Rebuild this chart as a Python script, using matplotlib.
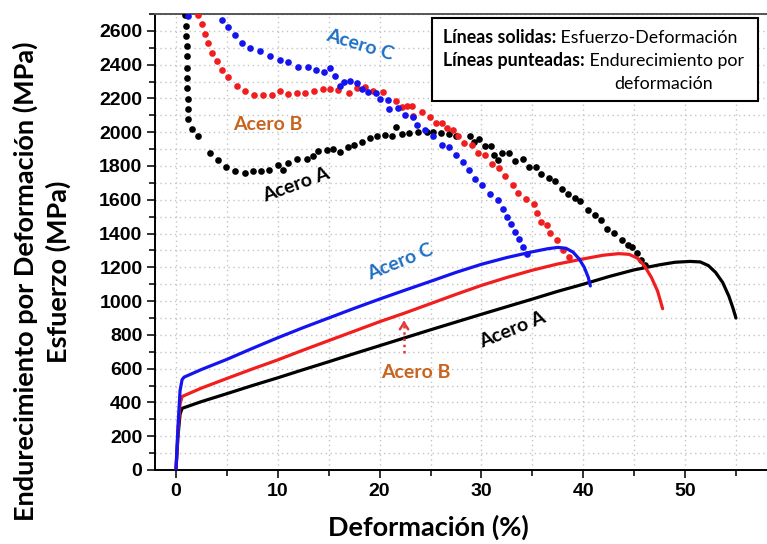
import matplotlib.pyplot as plt
from matplotlib.ticker import MultipleLocator

# Curvas esfuerzo-deformacion (lineas solidas)
strain_a = [0, 0.2, 0.4, 0.6, 2.5, 5, 7.5, 10, 12.5, 15, 17.5, 20, 22.5, 25, 27.5, 30, 32.5, 35,
            37.5, 40, 42.5, 45, 47.5, 49, 50.5, 51.5, 52.3, 53, 53.7, 54.3, 54.7, 55]
stress_a = [0, 200, 330, 365, 405, 452, 500, 546, 594, 641, 689, 736, 783, 830, 876, 922, 967, 1012,
            1058, 1100, 1145, 1185, 1215, 1230, 1235, 1232, 1210, 1170, 1110, 1030, 960, 900]

strain_b = [0, 0.2, 0.4, 0.6, 2.5, 5, 7.5, 10, 12.5, 15, 17.5, 20, 22.5, 25, 27.5, 30, 32.5, 35,
            37.5, 40, 42, 43.5, 44.5, 45.3, 46, 46.7, 47.3, 47.8]
stress_b = [0, 230, 390, 435, 485, 542, 598, 652, 710, 766, 822, 878, 930, 985, 1040, 1093, 1140, 1183,
            1220, 1250, 1272, 1281, 1277, 1255, 1210, 1140, 1060, 955]

strain_c = [0, 0.2, 0.4, 0.6, 0.8, 2.5, 5, 7.5, 10, 12.5, 15, 17.5, 20, 22.5, 25, 27.5, 30, 32.5,
            35, 36.5, 37.5, 38.3, 39, 39.6, 40.1, 40.5, 40.7]
stress_c = [0, 260, 470, 535, 550, 595, 655, 720, 783, 843, 900, 957, 1012, 1065, 1117, 1170, 1218, 1258,
            1292, 1310, 1318, 1313, 1290, 1250, 1200, 1140, 1090]

# Endurecimiento por deformacion (puntos)
hard_x_a = [0.88, 0.98, 0.98, 1.05, 1.05, 1.11, 1.11, 1.11, 1.15, 1.21, 1.21, 1.54, 2.2, 3.34,
            4.16, 4.91, 5.8, 6.78, 7.53, 8.35, 9.17, 9.99, 10.5, 11.04, 11.85, 12.84, 13.49,
            13.98, 14.8, 15.39, 16.11, 16.93, 17.48, 18.24, 19.06, 19.78, 20.53, 21.19, 21.61,
            22.17, 22.92, 23.81, 24.63, 25.2, 26.0, 26.85, 27.5, 28.9, 29.3, 29.8, 30.4, 30.9,
            31.2, 31.6, 32.0, 32.7, 33.3, 34.1, 34.7, 35.4, 35.9, 36.6, 37.2, 37.9, 38.5, 39.2,
            39.7, 40.5, 41.2, 41.7, 42.3, 43.0, 43.8, 44.4, 44.8, 45.3, 45.7, 46.1]
hard_y_a = [2695, 2627, 2567, 2508, 2449, 2380, 2320, 2261, 2196, 2137, 2078, 2018, 1979, 1876,
            1833, 1797, 1773, 1758, 1773, 1773, 1777, 1803, 1777, 1817, 1840, 1842, 1860,
            1886, 1892, 1900, 1882, 1915, 1925, 1945, 1965, 1975, 1985, 1975, 2028,
            1990, 1994, 2004, 2004, 2004, 1994, 1988, 1975, 1975, 1945, 1959, 1919, 1921,
            1866, 1836, 1876, 1876, 1831, 1842, 1797, 1797, 1752, 1728, 1712, 1665, 1635, 1610,
            1590, 1540, 1511, 1481, 1426, 1402, 1363, 1333, 1319, 1284, 1244, 1214]

hard_x_b = [2.19, 2.52, 2.85, 3.18, 3.5, 4.0, 4.49, 5.14, 5.96, 6.78, 7.66, 8.58, 9.4, 10.22,
            11.03, 11.85, 12.67, 13.59, 14.41, 15.13, 15.95, 17.03, 17.75, 18.57, 19.32, 20.37,
            21.61, 22.17, 22.66, 23.15, 23.31, 24.13, 24.95, 25.54, 26.1, 26.65, 27.24, 27.73,
            28.29, 29.04, 29.7, 30.35, 31.0, 31.76, 32.32, 33.07, 33.63, 34.38, 35.17, 35.5,
            35.9, 36.4, 36.7, 37.4, 38.0, 38.6]
hard_y_b = [2695, 2642, 2583, 2528, 2472, 2419, 2370, 2326, 2275, 2247, 2222, 2218, 2223, 2245,
            2229, 2235, 2235, 2247, 2257, 2255, 2251, 2235, 2261, 2267, 2247, 2237,
            2182, 2148, 2156, 2156, 2097, 2122, 2093, 2054, 2054, 2024, 2014, 1975,
            1935, 1925, 1876, 1866, 1811, 1791, 1738, 1688, 1639, 1605, 1574, 1520,
            1471, 1451, 1406, 1363, 1305, 1262]

hard_x_c = [1.21, 4.49, 5.14, 5.8, 6.45, 7.27, 8.25, 9.23, 10.22, 11.03, 12.02, 13.0, 13.75,
            14.54, 15.13, 15.62, 16.11, 16.54, 17.09, 17.81, 18.24, 18.89, 19.65, 20.04, 20.86,
            20.95, 21.84, 22.5, 23.31, 23.64, 24.46, 25.28, 26.1, 26.85, 27.5, 28.2, 28.8, 29.4,
            30.1, 30.8, 31.6, 32.1, 32.5, 32.9, 33.3, 33.7, 34.1, 34.5]
hard_y_c = [2690, 2666, 2622, 2573, 2528, 2498, 2478, 2453, 2429, 2413, 2389, 2384, 2366,
            2356, 2380, 2330, 2275, 2295, 2301, 2291, 2255, 2241, 2231, 2196, 2188,
            2137, 2143, 2103, 2093, 2044, 2014, 1975, 1925, 1910, 1866, 1822, 1777, 1724,
            1688, 1635, 1596, 1545, 1500, 1455, 1410, 1365, 1320, 1280]

BLUE = '#1414f0'
RED = '#f01e1e'
BLACK = '#000000'
LBL_BLUE = '#1f6fc4'
LBL_ORANGE = '#c8641e'

plt.rcParams['font.family'] = ['Liberation Sans', 'DejaVu Sans']

fig = plt.figure(figsize=(7.67, 5.44), dpi=100)
ax = fig.add_axes([155 / 767, 74 / 544, 612 / 767, 456 / 544])

ax.plot(hard_x_a, hard_y_a, 'o', color=BLACK, ms=4.8, mew=0, zorder=3)
ax.plot(hard_x_b, hard_y_b, 'o', color=RED, ms=4.8, mew=0, zorder=3)
ax.plot(hard_x_c, hard_y_c, 'o', color=BLUE, ms=4.8, mew=0, zorder=3)

ax.plot(strain_a, stress_a, color=BLACK, lw=2.3, solid_capstyle='round', solid_joinstyle='round', zorder=4)
ax.plot(strain_b, stress_b, color=RED, lw=2.3, solid_capstyle='round', solid_joinstyle='round', zorder=4)
ax.plot(strain_c, stress_c, color=BLUE, lw=2.3, solid_capstyle='round', solid_joinstyle='round', zorder=4)

ax.set_xlim(-2.06, 58.05)
ax.set_ylim(0, 2700)

ax.xaxis.set_major_locator(MultipleLocator(10))
ax.xaxis.set_minor_locator(MultipleLocator(5))
ax.yaxis.set_major_locator(MultipleLocator(200))
ax.yaxis.set_minor_locator(MultipleLocator(100))
ax.grid(True, which='both', color='#c4c4c4', linestyle=(0, (1, 2.5)), lw=1)
ax.set_axisbelow(True)
ax.tick_params(which='both', direction='out', width=1.3, color='#222222')
ax.tick_params(which='major', length=6, labelsize=14, pad=3)
ax.tick_params(which='minor', length=4)
for lbl in ax.get_xticklabels() + ax.get_yticklabels():
    lbl.set_fontweight('bold')
ax.spines['right'].set_visible(False)
for side in ('left', 'bottom', 'top'):
    ax.spines[side].set_linewidth(1.4)
ax.spines['top'].set_color('#555555')

lab = dict(family=['Lato', 'DejaVu Sans'], fontweight='bold')
fig.text(428 / 767, 1 - 527 / 544, 'Deformación (%)', ha='center', va='center', fontsize=19.5, **lab)
fig.text(25 / 767, 1 - 281 / 544, 'Endurecimiento por Deformación (MPa)', rotation=90,
         ha='center', va='center', fontsize=19.5, **lab)
fig.text(58 / 767, 1 - 272 / 544, 'Esfuerzo (MPa)', rotation=90,
         ha='center', va='center', fontsize=19.5, **lab)

ann = dict(family=['Lato', 'DejaVu Sans'], fontweight='bold', fontsize=14,
           ha='center', va='center', zorder=6)
ax.text(18.1, 2518, 'Acero C', color=LBL_BLUE, rotation=-17, **ann)
ax.text(9.0, 2044, 'Acero B', color=LBL_ORANGE, **ann)
ax.text(11.8, 1688, 'Acero A', color=BLACK, rotation=20, **ann)
ax.text(22.0, 1232, 'Acero C', color=LBL_BLUE, rotation=22, **ann)
ax.text(33.1, 829, 'Acero A', color=BLACK, rotation=22, **ann)
ax.text(23.6, 575, 'Acero B', color=LBL_ORANGE, **ann)

# flecha punteada hacia la curva del acero B
ax.plot([22.4, 22.4], [690, 860], color='#e03a3a', lw=1.8, linestyle=(0, (1, 1.5)), zorder=5)
ax.annotate('', xy=(22.4, 900), xytext=(22.4, 850),
            arrowprops=dict(arrowstyle='->,head_length=0.45,head_width=0.3',
                            color='#e03a3a', lw=1.8), zorder=5)

# cuadro explicativo
box = plt.Rectangle((432 / 767, 1 - 101 / 544), 326 / 767, 83 / 544, transform=fig.transFigure,
                    facecolor='white', edgecolor='black', lw=1.5, zorder=10)
fig.add_artist(box)
txt = dict(family=['Lato', 'DejaVu Sans'], fontsize=12.8, va='baseline', zorder=11)
t1 = fig.text(443 / 767, 1 - 43 / 544, 'Líneas solidas:', fontweight='bold', **txt)
t2 = fig.text(443 / 767, 1 - 66 / 544, 'Líneas punteadas:', fontweight='bold', **txt)
fig.text(664 / 767, 1 - 89 / 544, 'deformación', ha='center', **txt)

fig.canvas.draw()
for bold, rest in ((t1, ' Esfuerzo-Deformación'), (t2, ' Endurecimiento por')):
    bb = bold.get_window_extent()
    fig.text(bb.x1 / fig.bbox.width, bold.get_position()[1], rest, **txt)

fig.savefig('out.png', dpi=100)
